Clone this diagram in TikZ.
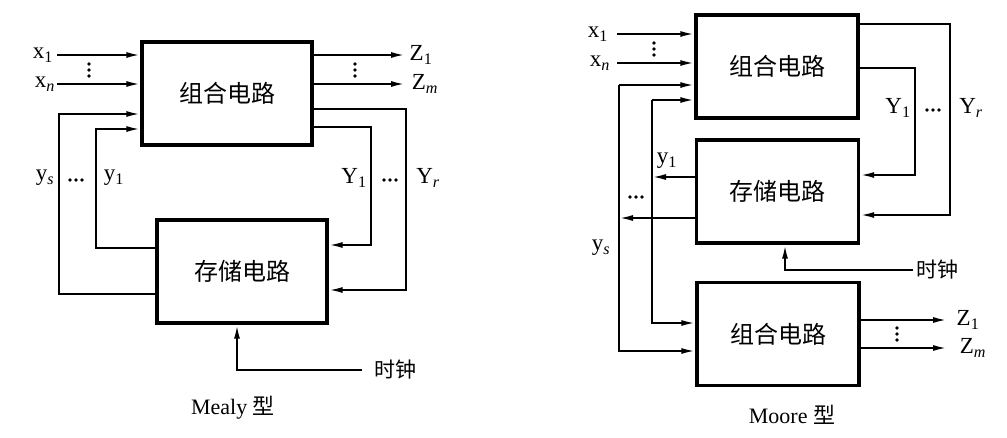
\documentclass[tikz,border=0pt]{standalone}
\usepackage{fontspec}
\setmainfont{Liberation Serif}
\newfontfamily\cjk{Noto Sans CJK SC}
\usetikzlibrary{arrows.meta}
\begin{document}
\begin{tikzpicture}[x=1pt,y=-1pt,
  blk/.style={draw,line width=3.4pt,minimum width=#1,minimum height=103pt,inner sep=0pt,font=\cjk\fontsize{24}{26}\selectfont},
  blk/.default=170pt,
  arr/.style={line width=2pt,-{Latex[length=14pt,width=6pt]}},
  lab/.style={inner sep=0pt,font=\fontsize{23}{25}\selectfont},
  captxt/.style={inner sep=0pt,font=\fontsize{22}{24}\selectfont},
  dotc/.style={fill,circle,inner sep=0pt,minimum size=3.6pt}]
\useasboundingbox (0,0) rectangle (1007,437);
\newcommand\vdts[1]{\foreach \k in {-6,0,6}{\node[dotc] at ([yshift=\k pt]#1) {};}}
\newcommand\hdts[1]{\foreach \k in {-6,0,6}{\node[dotc] at ([xshift=\k pt]#1) {};}}
% ================= Mealy =================
\node[blk] (cm) at (227,93.5) {组合电路};
\node[blk] (st) at (242,271.5) {存储电路};
% inputs
\coordinate (xa) at (57,55);
\coordinate (xb) at (57,84);
\draw[arr] (xa) -- (xa -| cm.west);
\draw[arr] (xb) -- (xb -| cm.west);
\node[lab] (lx1) at (43,55) {x\textsubscript{1}};
\node[lab] (lxn) at (45,84) {x\textsubscript{\itshape n}};
\coordinate (dx) at (89,70); \vdts{dx}
% outputs Z
\coordinate (za) at (405,55);
\coordinate (zb) at (405,84);
\draw[arr] (za -| cm.east) -- (za);
\draw[arr] (zb -| cm.east) -- (zb);
\node[lab] (lz1) at (421,55) {Z\textsubscript{1}};
\node[lab] (lzm) at (425,84) {Z\textsubscript{\itshape m}};
\coordinate (dz) at (355,70); \vdts{dz}
% feedback y
\coordinate (fa1) at (59,114);
\coordinate (fa2) at (59,294);
\draw[arr] (st.west |- fa2) -- (fa2) -- (fa1) -- (fa1 -| cm.west);
\coordinate (fb1) at (96,129);
\coordinate (fb2) at (96,248);
\draw[arr] (st.west |- fb2) -- (fb2) -- (fb1) -- (fb1 -| cm.west);
\node[lab] (lys) at (45,178) {y\textsubscript{\itshape s}};
\coordinate (dys) at (76,180); \hdts{dys}
\node[lab] (ly1) at (114,178) {y\textsubscript{1}};
% excitation Y
\coordinate (ga1) at (406,109);
\coordinate (ga2) at (406,290);
\draw[arr] (cm.east |- ga1) -- (ga1) -- (ga2) -- (ga2 -| st.east);
\coordinate (gb1) at (371,127);
\coordinate (gb2) at (371,245);
\draw[arr] (cm.east |- gb1) -- (gb1) -- (gb2) -- (gb2 -| st.east);
\node[lab] (lY1) at (354,178) {Y\textsubscript{1}};
\coordinate (dY) at (390,180); \hdts{dY}
\node[lab] (lYr) at (428,178) {Y\textsubscript{\itshape r}};
% clock
\coordinate (ck) at (362,370);
\coordinate (ck2) at (237,370);
\draw[arr] (ck) -- (ck2) -- (ck2 |- st.south);
\node[inner sep=0pt,font=\cjk\fontsize{21}{24}\selectfont,anchor=west] (lck) at (374,370) {时钟};
\node[captxt] (capA) at (233,408) {Mealy {\cjk 型}};
% ================= Moore =================
\node[blk=162pt] (m1) at (777,66.5) {组合电路};
\node[blk=162pt] (m2) at (777.5,191.5) {存储电路};
\node[blk=162pt] (m3) at (778,334) {组合电路};
% inputs
\coordinate (ma) at (617,34);
\coordinate (mb) at (617,63);
\draw[arr] (ma) -- (ma -| m1.west);
\draw[arr] (mb) -- (mb -| m1.west);
\node[lab] (mx1) at (598,34) {x\textsubscript{1}};
\node[lab] (mxn) at (600,63) {x\textsubscript{\itshape n}};
\coordinate (mdx) at (654,49); \vdts{mdx}
% feedback from storage
\coordinate (h1) at (619,85);
\coordinate (h2) at (619,351);
\draw[arr] (h1) -- (h1 -| m1.west);
\draw[arr] (h1) -- (h2) -- (h2 -| m3.west);
\coordinate (k1) at (652,100);
\coordinate (k2) at (652,323);
\draw[arr] (k1) -- (k1 -| m1.west);
\draw[arr] (k1) -- (k2) -- (k2 -| m3.west);
\coordinate (s1) at (652,177);
\coordinate (s2) at (619,218);
\draw[arr] (s1 -| m2.west) -- (s1);
\draw[arr] (s2 -| m2.west) -- (s2);
\node[lab] (my1) at (667,161) {y\textsubscript{1}};
\coordinate (mdy) at (636,197); \hdts{mdy}
\node[lab] (mys) at (601,248) {y\textsubscript{\itshape s}};
% excitation Y
\coordinate (q1) at (950,24);
\coordinate (q2) at (950,215);
\draw[arr] (m1.east |- q1) -- (q1) -- (q2) -- (q2 -| m2.east);
\coordinate (q3) at (915,68);
\coordinate (q4) at (915,175);
\draw[arr] (m1.east |- q3) -- (q3) -- (q4) -- (q4 -| m2.east);
\node[lab] (mY1) at (898,108) {Y\textsubscript{1}};
\coordinate (mdY) at (933,110); \hdts{mdY}
\node[lab] (mYr) at (971,108) {Y\textsubscript{\itshape r}};
% clock
\coordinate (mk) at (913,270);
\coordinate (mk2) at (785,270);
\draw[arr] (mk) -- (mk2) -- (mk2 |- m2.south);
\node[inner sep=0pt,font=\cjk\fontsize{21}{24}\selectfont,anchor=west] (mlck) at (916,270) {时钟};
% outputs Z
\coordinate (mz1) at (947,320);
\coordinate (mz2) at (947,348);
\draw[arr] (mz1 -| m3.east) -- (mz1);
\draw[arr] (mz2 -| m3.east) -- (mz2);
\node[lab] (mlz1) at (968,320) {Z\textsubscript{1}};
\node[lab] (mlzm) at (973,348) {Z\textsubscript{\itshape m}};
\coordinate (mdz) at (897,334); \vdts{mdz}
\node[captxt] (capB) at (792,415) {Moore {\cjk 型}};
\end{tikzpicture}
\end{document}
